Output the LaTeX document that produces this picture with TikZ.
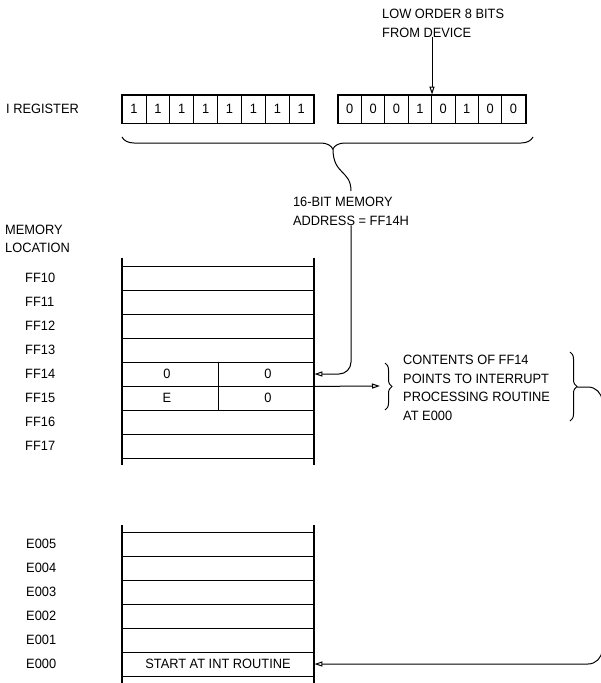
\documentclass[tikz,border=0pt]{standalone}
\usepackage{fontspec}
\setmainfont{Liberation Sans}[FakeStretch=0.95]
\usetikzlibrary{arrows.meta,decorations.pathreplacing}
\newcommand\figfont{\fontsize{13.5}{18.5}\selectfont}

\begin{document}
\begin{tikzpicture}[x=1pt, y=-1pt, font=\figfont,
    txt/.style={inner sep=0pt, anchor=west, align=left},
    bitcell/.style={draw, line width=0.8pt, minimum width=23.9pt, minimum height=28pt, inner sep=0pt},
    lobit/.style={bitcell, minimum width=23.4pt},
    memrow/.style={draw, line width=0.8pt, minimum width=192pt, minimum height=24pt, inner sep=0pt},
    side/.style={line width=2pt},
    frame/.style={line width=1.8pt},
    ptr/.style={line width=1pt, -{Triangle[open, length=8pt, width=5pt]}},
    brc/.style={line width=1pt, decorate, decoration={brace, amplitude=#1}},
]
    \useasboundingbox (0,0) rectangle (601,683);
    % I register
    \node[txt] (ireg) at (6,109) {I REGISTER};
    \foreach \b [count=\i from 0] in {1,1,1,1,1,1,1,1}
        \node[bitcell] (hi\i) at ({133.95+23.9*\i},109) {\b};
    \foreach \b [count=\i from 0] in {0,0,0,1,0,1,0,0}
        \node[lobit] (lo\i) at ({349.7+23.4*\i},109) {\b};
    \draw[frame] (hi0.north west) rectangle (hi7.south east);
    \draw[frame] (lo0.north west) rectangle (lo7.south east);
    \node[txt, anchor=north west] (lowsrc) at (382,9) {LOW ORDER 8 BITS\\FROM DEVICE};
    \draw[ptr] (lowsrc.south -| lo3.north east) -- (lo3.north east);
    % brace under the register
    \draw[brc=12, decoration={aspect=0.487}] (533,137) -- (122,137);
    \coordinate (brtip) at (333,149);
    \node[txt, anchor=north] (addr) at (351,197) {16-BIT MEMORY\\ADDRESS = FF14H};
    \draw[line width=1pt] (brtip) .. controls (333,175) and (351,170) .. ([yshift=6pt]addr.north);
    % memory FF10 - FF17
    \node[txt] (memloc) at (5,239) {MEMORY\\LOCATION};
    \foreach \i in {0,...,7} {
        \node[memrow] (ff\i) at (218,{278+24*\i}) {};
        \node[txt] (lf\i) at (25,{278+24*\i}) {FF1\i};
    }
    \draw[line width=0.8pt] (ff4.north) -- (ff5.south);
    \node (ff4hi) at ([xshift=-51pt]ff4.center) {0};
    \node (ff4lo) at ([xshift=50pt]ff4.center) {0};
    \node (ff5hi) at ([xshift=-51pt]ff5.center) {E};
    \node (ff5lo) at ([xshift=50pt]ff5.center) {0};
    \draw[side] (122,258) -- (122,465);
    \draw[side] (314,258) -- (314,465);
    % memory E000 - E005
    \foreach \i in {0,...,5} {
        \node[memrow] (e\i) at (218,{664-24*\i}) {};
        \node[txt] (le\i) at (26,{664-24*\i}) {E00\i};
    }
    \node (start) at (e0) {START AT INT ROUTINE};
    \draw[side] (122,525) -- (122,690);
    \draw[side] (314,525) -- (314,690);
    % pointers
    \draw[ptr, rounded corners=12pt] (addr.south) |- (ff4.east);
    \coordinate (lbr) at (380,386);
    \draw[ptr] (ff4.south east) -- (lbr);
    \draw[brc=7] (385,363) -- (385,410);
    \node[txt] (note) at (403,388) {CONTENTS OF FF14\\POINTS TO INTERRUPT\\PROCESSING ROUTINE\\AT E000};
    \draw[brc=7] (570,352) -- (570,421);
    \coordinate (rbtip) at (577,387);
    \draw[ptr, rounded corners=14pt] (rbtip) -- (602,387) |- (e0.east);
\end{tikzpicture}
\end{document}
